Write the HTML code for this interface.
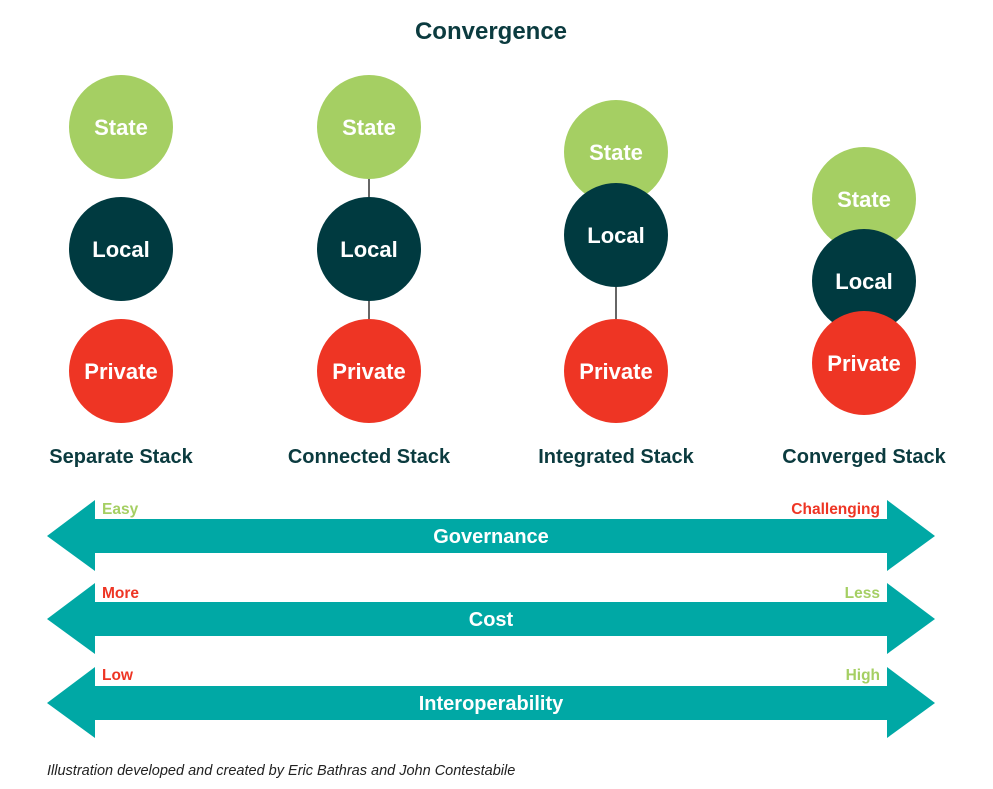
<!DOCTYPE html>
<html><head><meta charset="utf-8"><style>
html,body{margin:0;padding:0;background:#fff;}
svg{display:block;}
text{font-family:"Liberation Sans",sans-serif;font-weight:bold;}
text.foot{font-weight:normal;font-style:italic;}
</style></head><body>
<svg width="993" height="789" viewBox="0 0 993 789" xmlns="http://www.w3.org/2000/svg">
<text x="491" y="39" text-anchor="middle" font-size="24" fill="#0b3b3f">Convergence</text>

<g font-size="22" fill="#fff" text-anchor="middle">
<circle cx="121" cy="127" r="52" fill="#a5cf63"/><text x="121" y="135">State</text>
<circle cx="121" cy="249" r="52" fill="#003a40"/><text x="121" y="257">Local</text>
<circle cx="121" cy="371" r="52" fill="#ee3524"/><text x="121" y="379">Private</text>
<line x1="369" y1="179" x2="369" y2="197" stroke="#000" stroke-width="1.2"/>
<line x1="369" y1="301" x2="369" y2="319" stroke="#000" stroke-width="1.2"/>
<circle cx="369" cy="127" r="52" fill="#a5cf63"/><text x="369" y="135">State</text>
<circle cx="369" cy="249" r="52" fill="#003a40"/><text x="369" y="257">Local</text>
<circle cx="369" cy="371" r="52" fill="#ee3524"/><text x="369" y="379">Private</text>
<line x1="616" y1="287" x2="616" y2="319" stroke="#000" stroke-width="1.2"/>
<circle cx="616" cy="152" r="52" fill="#a5cf63"/><text x="616" y="160">State</text>
<circle cx="616" cy="235" r="52" fill="#003a40"/><text x="616" y="243">Local</text>
<circle cx="616" cy="371" r="52" fill="#ee3524"/><text x="616" y="379">Private</text>
<circle cx="864" cy="199" r="52" fill="#a5cf63"/><text x="864" y="207">State</text>
<circle cx="864" cy="281" r="52" fill="#003a40"/><text x="864" y="289">Local</text>
<circle cx="864" cy="363" r="52" fill="#ee3524"/><text x="864" y="371">Private</text>
</g>

<g font-size="20" fill="#0b3b3f" text-anchor="middle">
<text x="121" y="463">Separate Stack</text>
<text x="369" y="463">Connected Stack</text>
<text x="616" y="463">Integrated Stack</text>
<text x="864" y="463">Converged Stack</text>
</g>

<g fill="#00a8a5">
<polygon points="47,536 95,500 95,519 887,519 887,500 935,536 887,571 887,553 95,553 95,571"/>
<polygon points="47,619 95,583 95,602 887,602 887,583 935,619 887,654 887,636 95,636 95,654"/>
<polygon points="47,703 95,667 95,686 887,686 887,667 935,703 887,738 887,720 95,720 95,738"/>
</g>
<g font-size="20" fill="#fff" text-anchor="middle">
<text x="491" y="543">Governance</text>
<text x="491" y="626">Cost</text>
<text x="491" y="710">Interoperability</text>
</g>
<g font-size="15.5">
<text x="102" y="514" fill="#a5cf63">Easy</text>
<text x="880" y="514" fill="#ee3524" text-anchor="end">Challenging</text>
<text x="102" y="598" fill="#ee3524">More</text>
<text x="880" y="598" fill="#a5cf63" text-anchor="end">Less</text>
<text x="102" y="680" fill="#ee3524">Low</text>
<text x="880" y="680" fill="#a5cf63" text-anchor="end">High</text>
</g>
<text class="foot" x="47" y="775" font-size="14.5" fill="#222">Illustration developed and created by Eric Bathras and John Contestabile</text>
</svg>
</body></html>
